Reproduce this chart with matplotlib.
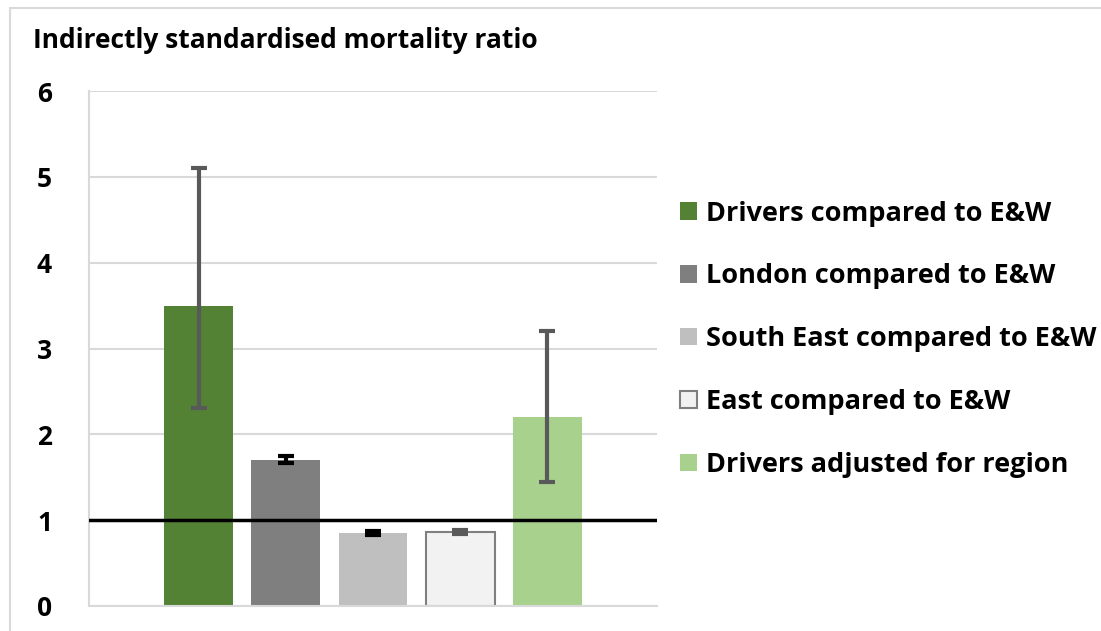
import matplotlib
matplotlib.use('Agg')
import matplotlib.pyplot as plt
from matplotlib.patches import Rectangle, Patch
import numpy as np

series = ['Drivers compared to E&W', 'London compared to E&W', 'South East compared to E&W',
          'East compared to E&W', 'Drivers adjusted for region']
ratios = [3.5, 1.7, 0.85, 0.86, 2.2]
ci_low = [2.31, 1.67, 0.83, 0.84, 1.45]
ci_high = [5.1, 1.75, 0.87, 0.89, 3.2]
yticks = [0, 1, 2, 3, 4, 5, 6]

colors = ['#548235', '#7f7f7f', '#bfbfbf', '#f2f2f2', '#a9d18e']
edges = ['#548235', '#7f7f7f', '#bfbfbf', '#7f7f7f', '#a9d18e']
err_colors = ['#595959', '#000000', '#000000', '#595959', '#595959']

plt.rcParams['font.family'] = ['Open Sans', 'DejaVu Sans']
plt.rcParams['font.weight'] = 'bold'

fig = plt.figure(figsize=(11.01, 6.31), dpi=100)
fig.patches.append(Rectangle((10 / 1101, -0.1), 1.2, 1 - 8 / 631 + 0.1, transform=fig.transFigure,
                             fill=False, edgecolor='#d9d9d9', linewidth=1.5))

ax = fig.add_axes([89 / 1101, 1 - 606 / 631, (657 - 89) / 1101, (606 - 91) / 631])

x = np.arange(len(series))
for i in range(len(series)):
    ax.bar(x[i], ratios[i], width=0.79, color=colors[i], edgecolor=edges[i],
           linewidth=1.5 if i == 3 else 0, label=series[i], zorder=2)
    err = [[ratios[i] - ci_low[i]], [ci_high[i] - ratios[i]]]
    ax.errorbar(x[i], ratios[i], yerr=err, fmt='none', ecolor=err_colors[i],
                elinewidth=3, capsize=6, capthick=3, zorder=3)

# reference line at ratio 1
ax.axhline(1, color='black', linewidth=2.5, zorder=4)

ax.set_xlim(-1.26, 4 + 1.26)
ax.set_ylim(0, 6)
ax.set_yticks(yticks)
ax.set_xticks([])
ax.tick_params(axis='y', length=0, labelsize=19, pad=32)
for lbl in ax.get_yticklabels():
    lbl.set_horizontalalignment('center')
ax.grid(axis='y', color='#d9d9d9', linewidth=1.5, zorder=0)
for s in ['top', 'right']:
    ax.spines[s].set_visible(False)
ax.spines['left'].set_color('#d9d9d9')
ax.spines['left'].set_linewidth(1.5)
ax.spines['bottom'].set_color('#d9d9d9')
ax.spines['bottom'].set_linewidth(1.5)

handles = [Patch(facecolor=colors[i], edgecolor=edges[i], linewidth=1.5 if i == 3 else 0)
           for i in range(len(series))]
ax.legend(handles, series, loc='center left', bbox_to_anchor=(1.0, 0.518), frameon=False,
          fontsize=19.5, handlelength=0.62, handleheight=0.62, handletextpad=0.33,
          labelspacing=1.36, borderaxespad=0.45)

fig.text(33 / 1101, 1 - 40 / 631, 'Indirectly standardised mortality ratio', fontsize=19,
         fontweight='bold', va='center', ha='left')

plt.savefig('out.png', dpi=100)
